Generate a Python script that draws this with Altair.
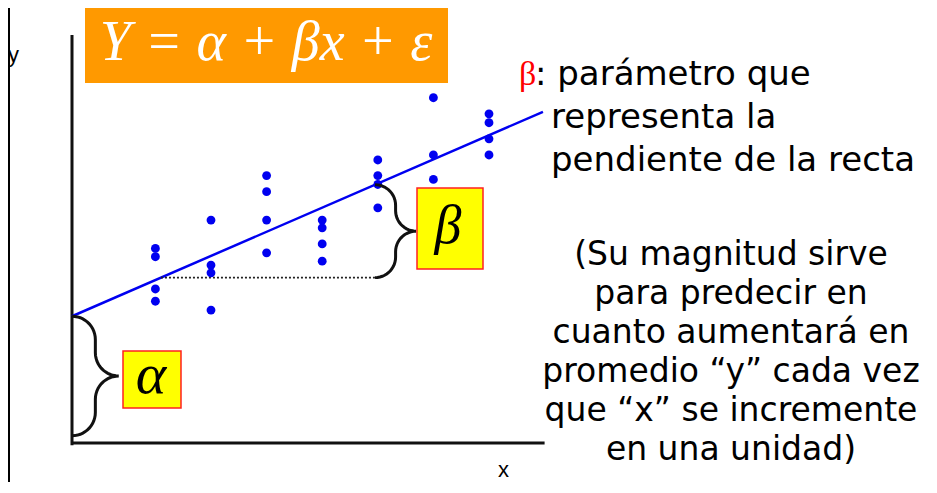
import altair as alt
import numpy as np
import pandas as pd

# ---------------- data (diagram units, origin = corner of the axes) ----------------
col_x = [1.5, 2.5, 3.5, 4.5, 5.5, 6.5, 7.5]
col_y = [
    [3.50, 3.35, 2.77, 2.55],
    [4.01, 3.20, 3.06, 2.39],
    [4.81, 4.52, 4.01, 3.42],
    [4.01, 3.87, 3.58, 3.27],
    [5.09, 4.81, 4.65, 4.23],
    [6.21, 5.18, 4.74],
    [5.92, 5.76, 5.47, 5.18],
]
alpha = 2.28          # intercept
beta = 0.434          # slope
line_x = [0.0, 8.47]  # extent of the fitted line
x_axis_end = 8.5
y_axis_top = 7.34
step_x = [1.6, 5.45]  # run used to show the slope

formula = "Y = α + βx + ε"
desc_head = ": parámetro que"
desc_lines = ["representa la", "pendiente de la recta"]
note_lines = [
    "(Su magnitud sirve",
    "para predecir en",
    "cuanto aumentará en",
    "promedio “y” cada vez",
    "que “x” se incremente",
    "en una unidad)",
]

# ---------------- layout ----------------
W, H = 920, 474
U = 55.6            # pixels per diagram unit (both axes)
OX, OY = 72, 443    # page position of the origin
PAGE = 8


def ux(p):
    return (p - OX) / U


def uy(p):
    return (OY - p) / U


xs = alt.Scale(domain=[ux(PAGE), ux(PAGE + W)], nice=False, zero=False)
ys = alt.Scale(domain=[uy(PAGE + H), uy(PAGE)], nice=False, zero=False)


def X(f):
    return alt.X(f"{f}:Q", scale=xs, axis=None)


def Y(f):
    return alt.Y(f"{f}:Q", scale=ys, axis=None)


# points
pts = pd.DataFrame(
    [{"x": cx, "y": cy} for cx, ys_ in zip(col_x, col_y) for cy in ys_]
)
points = alt.Chart(pts).mark_circle(size=78, color="#0000F0", opacity=1).encode(
    x=X("x"), y=Y("y")
)

# fitted line
fit = pd.DataFrame({"x": line_x, "y": [alpha + beta * v for v in line_x]})
fit_line = alt.Chart(fit).mark_line(color="#0000F0", strokeWidth=2.5).encode(
    x=X("x"), y=Y("y")
)

# dotted run
y_run = alpha + beta * step_x[0]
run = pd.DataFrame({"x": step_x, "y": [y_run, y_run]})
run_line = alt.Chart(run).mark_line(
    color="#222222", strokeWidth=1.6, strokeDash=[2, 2]
).encode(x=X("x"), y=Y("y"))

# axes
axes_df = pd.DataFrame(
    [
        {"x": 0.0, "x2": 0.0, "y": -0.04, "y2": y_axis_top},
        {"x": 0.0, "x2": x_axis_end, "y": 0.0, "y2": 0.0},
    ]
)
axes = alt.Chart(axes_df).mark_rule(color="#111111", strokeWidth=3).encode(
    x=X("x"), x2="x2:Q", y=Y("y"), y2="y2:Q"
)

# left frame line of the slide
frame = alt.Chart(pd.DataFrame({"a": [0]})).mark_rule(
    color="#000000", strokeWidth=3
).encode(x=alt.value(0.5), y=alt.value(0), y2=alt.value(H))


# braces
def brace(x0, ya, yb, r, bid, n=14):
    ym = (ya + yb) / 2
    out = []

    def arc(cx, cy, a0, a1):
        for t in np.linspace(np.radians(a0), np.radians(a1), n):
            out.append((cx + r * np.cos(t), cy + r * np.sin(t)))

    arc(x0, ya - r, 90, 0)
    arc(x0 + 2 * r, ym + r, 180, 270)
    arc(x0 + 2 * r, ym - r, 90, 180)
    arc(x0, yb + r, 0, -90)
    return [{"x": a, "y": b, "o": i, "id": bid} for i, (a, b) in enumerate(out)]


br = pd.DataFrame(
    brace(0.0, alpha, 0.13, 0.42, "a")
    + brace(step_x[1], alpha + beta * step_x[1], y_run, 0.37, "b")
)
braces = alt.Chart(br).mark_line(color="#111111", strokeWidth=3).encode(
    x=X("x"), y=Y("y"), order="o:Q", detail="id:N"
)

# boxes
orange = pd.DataFrame([{"x": ux(85), "x2": ux(448), "y": uy(83), "y2": uy(4)}])
orange_box = alt.Chart(orange).mark_rect(color="#FF9900").encode(
    x=X("x"), x2="x2:Q", y=Y("y"), y2="y2:Q"
)
yel = pd.DataFrame(
    [
        {"x": ux(417), "x2": ux(483), "y": uy(269), "y2": uy(188)},
        {"x": ux(123), "x2": ux(181), "y": uy(408), "y2": uy(351)},
    ]
)
yellow_boxes = alt.Chart(yel).mark_rect(
    fill="#FFFF00", stroke="#FF2020", strokeWidth=1.5
).encode(x=X("x"), x2="x2:Q", y=Y("y"), y2="y2:Q")


def text_layer(rows, **props):
    return alt.Chart(pd.DataFrame(rows)).mark_text(**props).encode(
        x=X("x"), y=Y("y"), text="t:N"
    )


serif = "Liberation Serif"
sans = "DejaVu Sans"

formula_t = text_layer(
    [{"x": ux(266), "y": uy(60), "t": formula}],
    font=serif, fontSize=56, fontStyle="italic", color="white",
    align="center", baseline="alphabetic",
)
beta_t = text_layer(
    [{"x": ux(448), "y": uy(243), "t": "β"}],
    font=serif, fontSize=54, fontStyle="italic", color="black",
    align="center", baseline="alphabetic",
)
alpha_t = text_layer(
    [{"x": ux(151), "y": uy(393), "t": "α"}],
    font=serif, fontSize=58, fontStyle="italic", color="black",
    align="center", baseline="alphabetic",
)
red_beta = text_layer(
    [{"x": ux(519), "y": uy(85), "t": "β"}],
    font=serif, fontSize=34, color="#FF0000", align="left", baseline="alphabetic",
)
desc_rows = [{"x": ux(535), "y": uy(85), "t": desc_head}] + [
    {"x": ux(551), "y": uy(128 + 43 * i), "t": s} for i, s in enumerate(desc_lines)
]
desc_t = text_layer(
    desc_rows, font=sans, fontSize=34, color="black", align="left",
    baseline="alphabetic",
)
note_t = text_layer(
    [{"x": ux(731), "y": uy(265 + 39 * i), "t": s} for i, s in enumerate(note_lines)],
    font=sans, fontSize=33, color="black", align="center", baseline="alphabetic",
)
axis_labels = text_layer(
    [
        {"x": ux(8), "y": uy(62), "t": "y"},
        {"x": ux(498), "y": uy(477), "t": "x"},
    ],
    font="Liberation Sans", fontSize=22, color="black", align="left",
    baseline="alphabetic",
)

chart = alt.layer(
    orange_box, frame, axes, fit_line, run_line, points, braces,
    yellow_boxes, formula_t, beta_t, alpha_t, red_beta, desc_t, note_t,
    axis_labels,
).properties(width=W, height=H, padding=0, autosize="none").configure_view(
    stroke=None
)

chart.save("out.html", embed_options={"renderer": "svg", "actions": False})
